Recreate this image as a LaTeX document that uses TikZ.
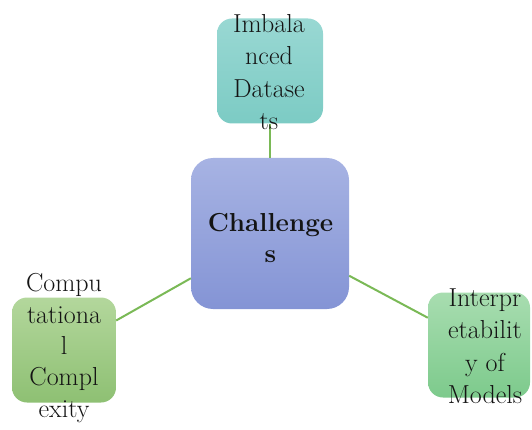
\documentclass[tikz,border=0pt]{standalone}
\usepackage{fontspec}
\definecolor{tealtop}{HTML}{99D8D3}
\definecolor{tealbot}{HTML}{7CCBC4}
\definecolor{bluetop}{HTML}{A7B3E3}
\definecolor{bluebot}{HTML}{8494D5}
\definecolor{lgreentop}{HTML}{B3D79C}
\definecolor{lgreenbot}{HTML}{8EC073}
\definecolor{mgreentop}{HTML}{A8DDB0}
\definecolor{mgreenbot}{HTML}{7DCA8C}
\definecolor{linkgreen}{HTML}{7AB956}
\definecolor{txt}{HTML}{141414}
\begin{document}
\begin{tikzpicture}[x=1pt,y=-1pt,
  boxbase/.style={rectangle, draw=none, inner sep=0pt},
  smallbox/.style={boxbase, rounded corners=15pt, minimum width=104pt, minimum height=105pt},
  bigbox/.style={boxbase, rounded corners=22pt, minimum width=158pt, minimum height=151pt},
  lbl/.style={font=\fontsize{26}{32.5}\selectfont, align=center, text=txt, inner sep=0pt},
  link/.style={draw=linkgreen, line width=2pt}]
\useasboundingbox (0,0) rectangle (532,430);
% boxes
\node[smallbox, minimum width=106pt, top color=tealtop, bottom color=tealbot] (imb) at (270,71) {};
\node[bigbox, top color=bluetop, bottom color=bluebot] (chal) at (270,233.5) {};
\node[smallbox, top color=lgreentop, bottom color=lgreenbot] (comp) at (64,350) {};
\node[smallbox, minimum width=102pt, top color=mgreentop, bottom color=mgreenbot] (interp) at (479,345) {};
% connectors
\draw[link] (chal) -- (imb);
\draw[link] (chal) -- (comp);
\draw[link] (chal) -- (interp);
% texts
\node[lbl] (imbt) at (269,72) {Imbala\\nced\\Datase\\ts};
\node[lbl, font=\fontsize{26}{31}\selectfont\bfseries] (chalt) at (270.5,238) {Challenge\\s};
\node[lbl, font=\fontsize{26}{31.3}\selectfont] (compt) at (64,348) {Compu\\tationa\\l\\Compl\\exity};
\node[lbl] (interpt) at (485,346) {Interpr\\etabilit\\y of\\Models};
\end{tikzpicture}
\end{document}
